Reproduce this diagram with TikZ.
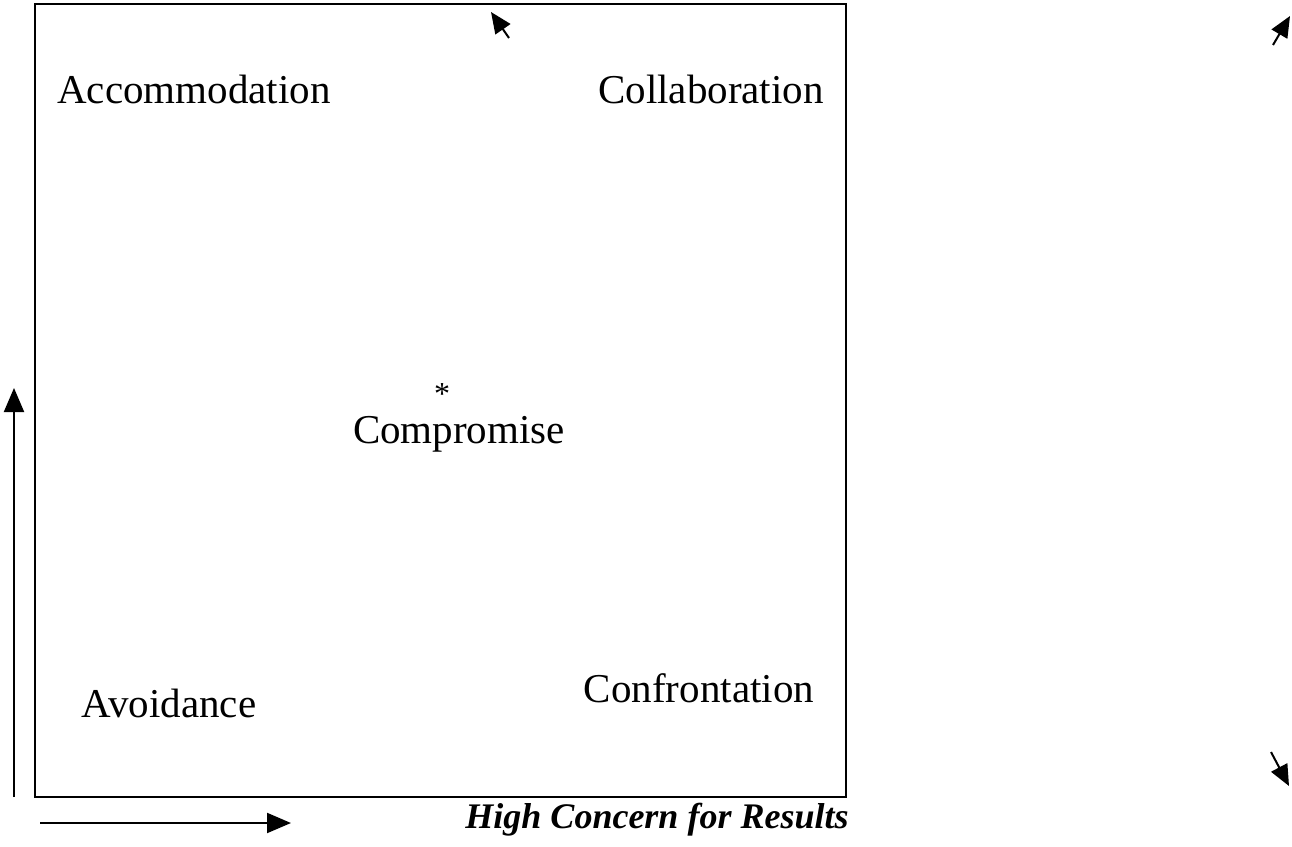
\documentclass[tikz,border=0pt]{standalone}
\usepackage{fontspec}
\setmainfont{Liberation Serif}
\usepackage{tikz}
\usetikzlibrary{positioning,arrows.meta}
\tikzset{quadtext/.style={font=\fontsize{41}{46}\selectfont,inner sep=0pt,anchor=base},
         axis/.style={line width=2pt,-{Triangle[length=24pt,width=20pt]}},
         smallarrow/.style={line width=2pt,-{Triangle[length=21pt,width=18pt]}}}

\begin{document}
\begin{tikzpicture}[x=1pt,y=-1pt]
    \useasboundingbox (0,0) rectangle (1292,846);
    \draw[line width=2pt] (35,4) rectangle (846,797); % the grid
    \node[quadtext] (acc) at (194,103) {Accommodation};
    \node[quadtext] (col) at (711,103) {Collaboration};
    \node[quadtext] (comp) at (459,443) {Compromise};
    \node[quadtext,font=\fontsize{32}{36}\selectfont,anchor=center] (star) at (442,394) {*};
    \node[quadtext] (avoid) at (169,717) {Avoidance};
    \node[quadtext] (conf) at (699,702) {Confrontation};
    \node[quadtext,font=\fontsize{36}{40}\selectfont\bfseries\itshape] (results) at (657,828) {High Concern for Results};
    % axes
    \coordinate (vfrom) at (14,797);
    \coordinate (vto) at (14,388);
    \coordinate (hfrom) at (40,823);
    \coordinate (hto) at (291,823);
    \draw[axis] (vfrom) -- (vto);
    \draw[axis] (hfrom) -- (hto);
    % stray arrows
    \coordinate (a1) at (509,38);  \coordinate (b1) at (491,12);
    \coordinate (a2) at (1273,45); \coordinate (b2) at (1290,16);
    \coordinate (a3) at (1271,752); \coordinate (b3) at (1289,786);
    \draw[smallarrow] (a1) -- (b1);
    \draw[smallarrow] (a2) -- (b2);
    \draw[smallarrow] (a3) -- (b3);
\end{tikzpicture}
\end{document}
